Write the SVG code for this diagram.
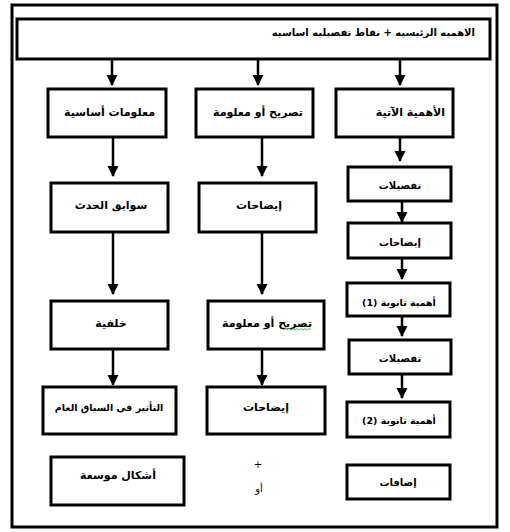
<svg xmlns="http://www.w3.org/2000/svg" width="510" height="532" viewBox="0 0 510 532">
<style>
.box{fill:#fff;stroke:#000;stroke-width:3}
.frame{fill:none;stroke:#000;stroke-width:3}
.con{stroke:#000;stroke-width:2.5;fill:none;marker-end:url(#ah)}
.t{font-family:"DejaVu Sans",sans-serif;font-weight:bold;font-size:11px;fill:#000;text-anchor:middle;dominant-baseline:central}
.s{font-size:10px}
.m{font-size:9.5px}
.r{font-family:"DejaVu Sans",sans-serif;font-size:10px;fill:#000;text-anchor:middle;dominant-baseline:central}
</style>
<defs>
<marker id="ah" markerUnits="userSpaceOnUse" markerWidth="12" markerHeight="12" refX="10" refY="5.5" orient="auto">
<path d="M0,0 L11,5.5 L0,11 Z" fill="#000"/>
</marker>
</defs>
<rect width="510" height="532" fill="#fff"/>
<rect class="frame" x="12" y="5" width="485" height="522"/>

<g id="connectors">
<line class="con" x1="112" y1="59" x2="112" y2="85"/>
<line class="con" x1="258" y1="59" x2="258" y2="85"/>
<line class="con" x1="400" y1="59" x2="400" y2="85"/>
<line class="con" x1="113" y1="138" x2="113" y2="176"/>
<line class="con" x1="262" y1="138" x2="262" y2="176"/>
<line class="con" x1="400" y1="138" x2="400" y2="161"/>
<line class="con" x1="402" y1="202" x2="402" y2="222"/>
<line class="con" x1="402" y1="259" x2="402" y2="279"/>
<line class="con" x1="402" y1="317" x2="402" y2="336"/>
<line class="con" x1="402" y1="375" x2="402" y2="398"/>
<line class="con" x1="113" y1="233" x2="113" y2="294"/>
<line class="con" x1="262" y1="233" x2="262" y2="294"/>
<line class="con" x1="113" y1="350" x2="113" y2="385"/>
<line class="con" x1="262" y1="350" x2="262" y2="385"/>
</g>

<g id="top">
<rect class="box" x="17" y="19" width="473" height="40"/>
<text class="t s" x="475" y="32" direction="rtl" style="text-anchor:start">الاهميه الرئيسيه + نقاط تفصيليه اساسيه</text>
</g>

<g id="n1a"><rect class="box" x="48" y="89" width="118" height="48"/><text class="t" x="155" y="112" direction="rtl" style="text-anchor:start">معلومات أساسية</text></g>
<g id="n2a"><rect class="box" x="196" y="89" width="117" height="48"/><text class="t" x="303" y="112" direction="rtl" style="text-anchor:start">تصريح أو معلومة</text></g>
<g id="n3a"><rect class="box" x="336" y="89" width="117" height="48"/><text class="t" x="445" y="112" direction="rtl" style="text-anchor:start">الأهمية الآتية</text></g>

<g id="n1b"><rect class="box" x="51" y="183" width="117" height="49"/><text class="t" x="111" y="205">سوابق الحدث</text></g>
<g id="n2b"><rect class="box" x="199" y="183" width="117" height="49"/><text class="t" x="259" y="205">إيضاحات</text></g>

<g id="n3b"><rect class="box" x="348" y="167" width="103" height="34"/><text class="t s" x="400" y="185">تفصيلات</text></g>
<g id="n3c"><rect class="box" x="348" y="223" width="103" height="35"/><text class="t s" x="400" y="242">إيضاحات</text></g>
<g id="n3d"><rect class="box" x="347" y="283" width="103" height="33"/><text class="t m" x="399" y="302">أهمية ثانوية (1)</text></g>
<g id="n3e"><rect class="box" x="349" y="340" width="102" height="34"/><text class="t s" x="400" y="358">تفصيلات</text></g>
<g id="n3f"><rect class="box" x="347" y="402" width="103" height="35"/><text class="t m" x="399" y="420">أهمية ثانوية (2)</text></g>

<g id="n1c"><rect class="box" x="51" y="301" width="117" height="48"/><text class="t" x="111" y="323">خلفية</text></g>
<g id="n2c"><rect class="box" x="208" y="301" width="116" height="48"/><text class="t" x="267" y="323">تصريح أو معلومة</text>
<path d="M283,330 l2,-1.5 l2,1.5 l2,-1.5 l2,1.5 l2,-1.5 l2,1.5 l2,-1.5 l2,1.5 l2,-1.5 l2,1.5 l2,-1.5 l2,1.5 l2,-1.5 l2,1.5" fill="none" stroke="#3a3" stroke-width="0.8"/></g>

<g id="n1d"><rect class="box" x="43" y="387" width="133" height="47"/><text class="t m" x="109" y="407">التأثير في السياق العام</text></g>
<g id="n2d"><rect class="box" x="207" y="387" width="118" height="47"/><text class="t" x="266" y="407">إيضاحات</text></g>

<g id="n1e"><rect class="box" x="51" y="457" width="133" height="48"/><text class="t" x="118" y="475">أشكال موسعة</text></g>
<g id="plus"><text class="r" x="258" y="464">+</text><text class="r" x="259" y="488">أو</text></g>
<g id="n3g"><rect class="box" x="347" y="465" width="103" height="34"/><text class="t s" x="398" y="482">إضافات</text></g>
</svg>
